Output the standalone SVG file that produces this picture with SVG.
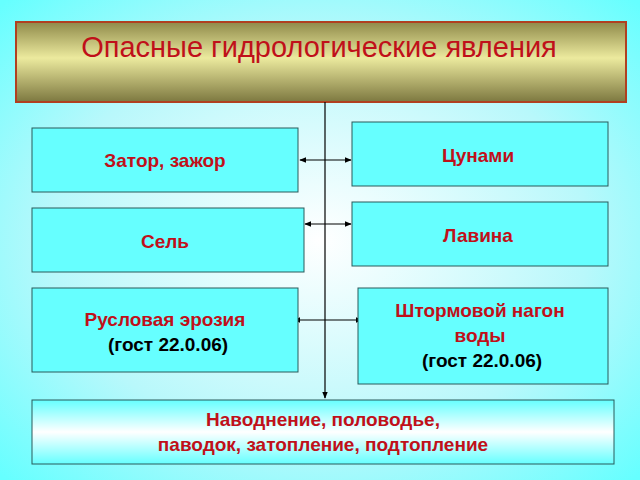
<svg xmlns="http://www.w3.org/2000/svg" width="640" height="480" viewBox="0 0 640 480">
<defs>
<radialGradient id="bg" cx="0.5" cy="0.5" r="0.7"><stop offset="0" stop-color="#ffffff"/><stop offset="0.6" stop-color="#b8f8fb"/><stop offset="1" stop-color="#66ffff"/></radialGradient>
<linearGradient id="tg" x1="0" y1="0" x2="0" y2="1"><stop offset="0" stop-color="#8f8a4a"/><stop offset="0.45" stop-color="#ecea9e"/><stop offset="1" stop-color="#7d7840"/></linearGradient>
<linearGradient id="bb" x1="0" y1="0" x2="0" y2="1"><stop offset="0" stop-color="#66ffff"/><stop offset="0.5" stop-color="#ffffff"/><stop offset="1" stop-color="#66ffff"/></linearGradient>
<marker id="ah" viewBox="0 0 10 10" refX="9" refY="5" markerWidth="6" markerHeight="6" orient="auto-start-reverse"><path d="M0,1 L10,5 L0,9 z" fill="#000"/></marker>
</defs>
<style>
.b{fill:#66ffff;stroke:#2a5a5a;stroke-width:1}
.t{font-family:"Liberation Sans",Arial,sans-serif;font-weight:bold;font-size:19px;text-anchor:middle}
.r{fill:#c0101a}.k{fill:#000}
.c{stroke:#000;stroke-width:1.2;fill:none}
</style>
<rect width="640" height="480" fill="url(#bg)"/>
<g id="title"><rect x="16" y="22" width="610" height="80" fill="url(#tg)" stroke="#b04020" stroke-width="2"/>
<text x="319" y="57" font-family="Liberation Sans,Arial,sans-serif" font-size="29" fill="#c0101a" text-anchor="middle">Опасные гидрологические явления</text></g>
<g id="connectors">
<line class="c" x1="325" y1="102" x2="325" y2="398" marker-end="url(#ah)"/>
<line class="c" x1="300" y1="160" x2="351" y2="160" marker-start="url(#ah)" marker-end="url(#ah)"/>
<line class="c" x1="305" y1="224" x2="351" y2="224" marker-start="url(#ah)" marker-end="url(#ah)"/>
<line class="c" x1="294" y1="320" x2="362" y2="320" marker-start="url(#ah)" marker-end="url(#ah)"/>
</g>
<g id="zator"><rect class="b" x="32" y="128" width="266" height="64"/><text class="t r" x="165" y="167">Затор, зажор</text></g>
<g id="tsunami"><rect class="b" x="352" y="122" width="256" height="64"/><text class="t r" x="478" y="162">Цунами</text></g>
<g id="sel"><rect class="b" x="32" y="208" width="272" height="64"/><text class="t r" x="165" y="248">Сель</text></g>
<g id="lavina"><rect class="b" x="352" y="202" width="256" height="64"/><text class="t r" x="478" y="242">Лавина</text></g>
<g id="erosion"><rect class="b" x="32" y="288" width="266" height="84"/><text class="t r" x="165" y="326">Русловая эрозия</text><text class="t k" x="168" y="351">(гост 22.0.06)</text></g>
<g id="storm"><rect class="b" x="358" y="288" width="250" height="96"/><text class="t r" x="480" y="317">Штормовой нагон</text><text class="t r" x="480" y="342">воды</text><text class="t k" x="482" y="367">(гост 22.0.06)</text></g>
<g id="flood"><rect x="32" y="400" width="582" height="64" fill="url(#bb)" stroke="#2a5a5a"/><text class="t r" x="323" y="426">Наводнение, половодье,</text><text class="t r" x="323" y="451">паводок, затопление, подтопление</text></g>
</svg>
